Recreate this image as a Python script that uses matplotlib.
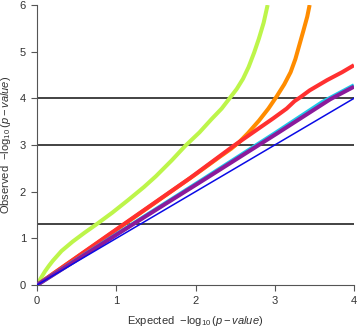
import matplotlib
matplotlib.use("Agg")
import matplotlib.pyplot as plt

# ---- data ----
green_x = [0, 0.02, 0.05, 0.1, 0.15, 0.2, 0.31, 0.45, 0.6, 0.75, 0.95, 1.15, 1.35, 1.5, 1.7, 1.87, 2.05, 2.2, 2.33, 2.43, 2.52, 2.6, 2.67, 2.74, 2.8, 2.86, 2.91]
green_y = [0, 0.06, 0.15, 0.29, 0.41, 0.52, 0.73, 0.93, 1.12, 1.30, 1.55, 1.82, 2.10, 2.33, 2.67, 2.98, 3.27, 3.55, 3.78, 4.0, 4.2, 4.42, 4.67, 4.98, 5.28, 5.62, 6.0]

orange_x = [0, 1.0, 2.0, 2.3, 2.45, 2.55, 2.66, 2.8, 2.92, 3.02, 3.12, 3.2, 3.26, 3.31, 3.36, 3.41, 3.44]
orange_y = [0, 1.18, 2.37, 2.74, 2.92, 3.06, 3.25, 3.52, 3.78, 4.03, 4.30, 4.56, 4.84, 5.14, 5.44, 5.75, 6.0]

red_x = [0, 1.0, 1.93, 2.48, 2.98, 3.15, 3.25, 3.32, 3.44, 3.66, 3.85, 4.0]
red_y = [0, 1.19, 2.29, 2.98, 3.57, 3.78, 3.94, 4.02, 4.17, 4.39, 4.56, 4.71]

cyan_x = [0, 1.2, 2.1, 3.0, 3.6, 4.0]
cyan_y = [0, 1.3, 2.27, 3.25, 3.92, 4.28]

purple_x = [0, 1.21, 2.12, 3.05, 3.7, 4.0]
purple_y = [0, 1.3, 2.27, 3.27, 3.98, 4.25]

null_x = [0, 4]
null_y = [0, 4]

threshold_y = [4, 3, 1.3]

x_ticks = [0, 1, 2, 3, 4]
y_ticks = [0, 1, 2, 3, 4, 5, 6]

# ---- style ----
plt.rcParams['font.family'] = ['Liberation Sans', 'DejaVu Sans']
plt.rcParams['mathtext.fontset'] = 'custom'
plt.rcParams['mathtext.rm'] = 'Liberation Sans'
plt.rcParams['mathtext.it'] = 'Liberation Sans:italic'

fig = plt.figure(figsize=(3.58, 3.28), dpi=100)
ax = fig.add_axes([37/358, 43/328, (354-37)/358, (285-5)/328])

for y in threshold_y:
    ax.plot([0, 4], [y, y], color='#222222', lw=1.2, zorder=1)

lw = 2.9
ax.plot(green_x, green_y, color='#bdf54a', lw=lw, solid_capstyle='butt', solid_joinstyle='round', zorder=2)
ax.plot(orange_x, orange_y, color='#ff8c00', lw=lw, solid_capstyle='butt', solid_joinstyle='round', zorder=3)
ax.plot(red_x, red_y, color='#ff3030', lw=lw, solid_capstyle='butt', solid_joinstyle='round', zorder=3)
ax.plot(cyan_x, cyan_y, color='#1ec8e8', lw=lw, solid_capstyle='butt', zorder=4)
ax.plot(purple_x, purple_y, color='#8b1a9b', lw=lw, solid_capstyle='butt', zorder=5)
ax.plot(null_x, null_y, color='#0a0ae6', lw=1.1, zorder=6)

ax.set_xlim(0, 4)
ax.set_ylim(0, 6)
ax.set_xticks(x_ticks)
ax.set_yticks(y_ticks)
ax.tick_params(direction='out', length=4, width=0.8, colors='#555555', labelsize=8, labelcolor='#333333', pad=4)

for s in ['top', 'right']:
    ax.spines[s].set_visible(False)
for s in ['left', 'bottom']:
    ax.spines[s].set_color('#555555')
    ax.spines[s].set_linewidth(0.8)

ax.set_xlabel(r'Expected  $-\log_{10}(\mathit{p-value})$', fontsize=8, color='#333333')
ax.set_ylabel(r'Observed  $-\log_{10}(\mathit{p-value})$', fontsize=8, color='#333333')
ax.xaxis.set_label_coords(0.5, -36/280, transform=ax.transAxes)
ax.yaxis.set_label_coords(-31/317, 0.5, transform=ax.transAxes)
ax.xaxis.label.set_va('center')
ax.yaxis.label.set_va('center')

fig.savefig('out.png', dpi=100)
